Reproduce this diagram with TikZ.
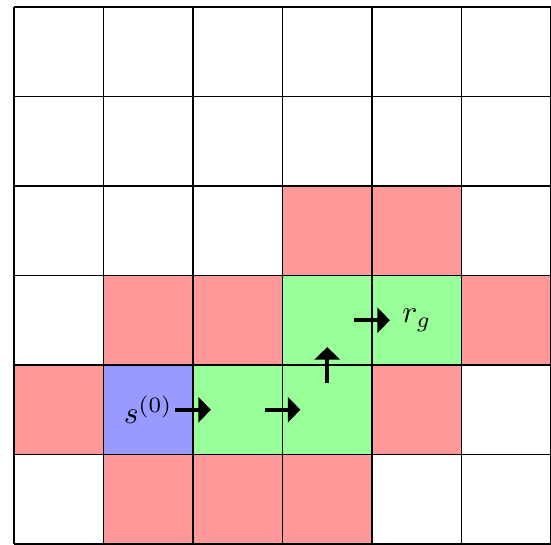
\documentclass[tikz,border=0pt]{standalone}
\usetikzlibrary{arrows.meta}
\begin{document}
\begin{tikzpicture}[x=1cm,y=1cm,
  redcell/.style={fill=red!40},
  greencell/.style={fill=green!40},
  bluecell/.style={fill=blue!40},
  move/.style={line width=1.3pt,-{Triangle[length=4pt,width=8pt]}},
  lbl/.style={inner sep=0pt}]
\useasboundingbox (-0.156,0) rectangle (6,6.078);
% red cells
\foreach \c/\r in {3/3,4/3,1/2,2/2,5/2,0/1,4/1,1/0,2/0,3/0}
  \path[redcell] (\c,\r) rectangle ++(1,1);
% green cells
\foreach \c/\r in {3/2,4/2,2/1,3/1}
  \path[greencell] (\c,\r) rectangle ++(1,1);
% blue start cell
\path[bluecell] (1,1) rectangle ++(1,1);
\draw (0,0) grid (6,6);
\node[lbl] (s0) at (1.5,1.5) {$s^{(0)}$};
\node[lbl] (rg) at (4.5,2.5) {$r_g$};
\coordinate (a1s) at (1.8,1.5); \coordinate (a1e) at (2.2,1.5);
\coordinate (a2s) at (2.8,1.5); \coordinate (a2e) at (3.2,1.5);
\coordinate (a3s) at (3.5,1.8); \coordinate (a3e) at (3.5,2.2);
\coordinate (a4s) at (3.8,2.5); \coordinate (a4e) at (4.2,2.5);
\draw[move] (a1s) -- (a1e);
\draw[move] (a2s) -- (a2e);
\draw[move] (a3s) -- (a3e);
\draw[move] (a4s) -- (a4e);
\end{tikzpicture}
\end{document}
